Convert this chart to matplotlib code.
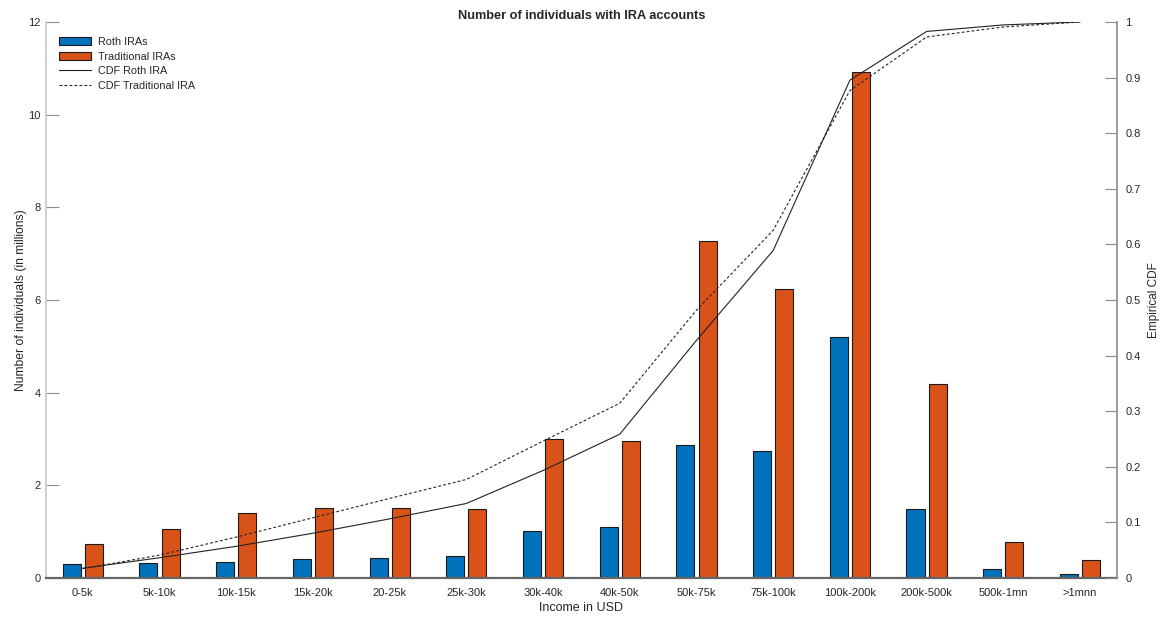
import matplotlib.pyplot as plt
import numpy as np

plt.rcParams['font.family'] = ['Liberation Sans', 'DejaVu Sans']

income = ['0-5k', '5k-10k', '10k-15k', '15k-20k', '20-25k', '25k-30k', '30k-40k',
          '40k-50k', '50k-75k', '75k-100k', '100k-200k', '200k-500k', '500k-1mn', '>1mnn']
roth = [0.30, 0.32, 0.35, 0.40, 0.44, 0.47, 1.01, 1.11, 2.87, 2.75, 5.21, 1.49, 0.20, 0.09]
traditional = [0.73, 1.06, 1.41, 1.51, 1.51, 1.48, 3.00, 2.96, 7.27, 6.24, 10.92, 4.19, 0.78, 0.39]

# empirical CDF of each account type across income brackets
cdf_roth = np.cumsum(roth) / np.sum(roth)
cdf_trad = np.cumsum(traditional) / np.sum(traditional)

blue = '#0072BD'
orange = '#D95319'
axis_grey = '#8c8c8c'
text_grey = '#262626'

fig = plt.figure(figsize=(11.64, 6.19), dpi=100)
ax = fig.add_axes([0.0395, 0.0662, 0.920, 0.8983])
x = np.arange(len(income))
w = 0.235
off = 0.145

b1 = ax.bar(x - off, roth, w, color=blue, edgecolor='#1a1a1a', linewidth=0.8, label='Roth IRAs')
b2 = ax.bar(x + off, traditional, w, color=orange, edgecolor='#1a1a1a', linewidth=0.8, label='Traditional IRAs')

ax.set_xlim(-0.48, 13.48)
ax.set_ylim(0, 12)
ax.set_yticks(np.arange(0, 13, 2))
ax.set_xticks(x)
ax.set_xticklabels(income)
ax.tick_params(axis='x', length=0, pad=7, labelsize=8, colors=text_grey)
ax.tick_params(axis='y', direction='in', length=9, width=0.8, color=axis_grey,
               labelsize=8, labelcolor=text_grey, pad=4)
ax.set_ylabel('Number of individuals (in millions)', fontsize=8.7, color=text_grey, labelpad=1)
ax.set_xlabel('Income in USD', fontsize=9, color=text_grey, labelpad=3)
ax.set_title('Number of individuals with IRA accounts', fontsize=9.2, weight='bold',
             color=text_grey, pad=2.5)

for s in ['top', 'right']:
    ax.spines[s].set_visible(False)
ax.spines['left'].set_color('#c8c8c8')
ax.spines['left'].set_linewidth(1.2)
ax.spines['bottom'].set_color('#666666')
ax.spines['bottom'].set_linewidth(1.6)

ax2 = ax.twinx()
l1, = ax2.plot(x, cdf_roth, color='#222222', linewidth=0.8, label='CDF Roth IRA')
l2, = ax2.plot(x, cdf_trad, color='#222222', linewidth=0.8, linestyle=(0, (2.5, 2)),
               label='CDF Traditional IRA')
ax2.set_ylim(0, 1)
ax2.set_yticks(np.arange(0, 1.01, 0.1))
ax2.set_yticklabels(['0'] + [f'{v:.1f}' for v in np.arange(0.1, 0.95, 0.1)] + ['1'])
ax2.tick_params(axis='y', direction='in', length=9, width=0.8, color=axis_grey,
                labelsize=8, labelcolor=text_grey, pad=6)
ax2.set_ylabel('Empirical CDF', fontsize=8.5, color=text_grey, labelpad=5)
for s in ['top', 'left', 'bottom']:
    ax2.spines[s].set_visible(False)
ax2.spines['right'].set_color('#8c8c8c')
ax2.spines['right'].set_linewidth(1.2)

leg = ax.legend(handles=[b1, b2, l1, l2], loc='upper left', bbox_to_anchor=(0.0028, 0.9904),
                frameon=False, fontsize=7.8, handlelength=3.0, handleheight=0.8,
                labelspacing=0.42, handletextpad=0.6, borderaxespad=0.5)
for t in leg.get_texts():
    t.set_color(text_grey)

fig.savefig('out.png', dpi=100)
